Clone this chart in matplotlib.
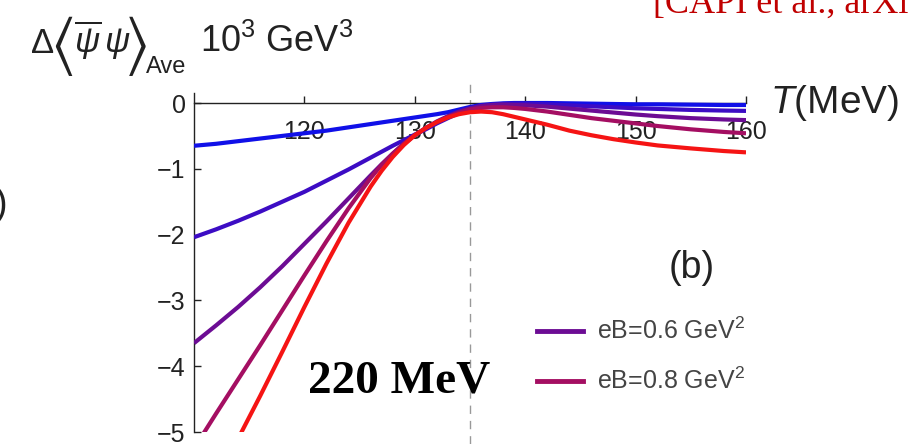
import matplotlib
matplotlib.use("Agg")
import matplotlib.pyplot as plt
from matplotlib.lines import Line2D

plt.rcParams['font.family'] = ['Liberation Sans', 'DejaVu Sans']
plt.rcParams['mathtext.fontset'] = 'custom'
plt.rcParams['mathtext.rm'] = 'Liberation Sans'
plt.rcParams['mathtext.it'] = 'Liberation Sans:italic'
plt.rcParams['mathtext.fallback'] = 'stixsans'
plt.rcParams['axes.unicode_minus'] = True

# temperature grid (MeV)
T = [110, 112, 114, 116, 118, 120, 122, 124, 126, 127, 128, 129, 130, 131, 132, 133,
     134, 135, 136, 137, 138, 139, 140, 142, 144, 146, 148, 150, 152, 155, 158, 160]
T_red = T[2:]

# condensate difference, 10^3 GeV^3
cond_02 = [-0.65, -0.62, -0.58, -0.54, -0.50, -0.46, -0.42, -0.37, -0.32, -0.295, -0.27, -0.245,
           -0.22, -0.195, -0.17, -0.14, -0.10, -0.06, -0.03, -0.015, -0.005, 0.0, 0.0, 0.0,
           -0.005, -0.01, -0.015, -0.02, -0.02, -0.025, -0.03, -0.03]
cond_04 = [-2.04, -1.92, -1.79, -1.65, -1.50, -1.35, -1.18, -1.01, -0.83, -0.74, -0.65, -0.565,
           -0.48, -0.40, -0.31, -0.23, -0.15, -0.09, -0.05, -0.025, -0.015, -0.01, -0.01, -0.02,
           -0.035, -0.05, -0.065, -0.08, -0.09, -0.105, -0.115, -0.12]
cond_06 = [-3.65, -3.38, -3.10, -2.80, -2.48, -2.14, -1.80, -1.45, -1.10, -0.93, -0.77, -0.62,
           -0.49, -0.38, -0.28, -0.20, -0.13, -0.08, -0.045, -0.03, -0.025, -0.03, -0.035, -0.055,
           -0.085, -0.115, -0.145, -0.175, -0.20, -0.23, -0.25, -0.26]
cond_08 = [-5.25, -4.72, -4.20, -3.68, -3.15, -2.62, -2.10, -1.60, -1.14, -0.94, -0.77, -0.62,
           -0.49, -0.38, -0.29, -0.21, -0.15, -0.10, -0.075, -0.065, -0.065, -0.075, -0.09, -0.13,
           -0.18, -0.23, -0.27, -0.31, -0.35, -0.40, -0.44, -0.46]
cond_10 = [-5.10, -4.45, -3.78, -3.10, -2.44, -1.82, -1.27, -1.03, -0.82, -0.64,
           -0.49, -0.38, -0.29, -0.22, -0.17, -0.14, -0.13, -0.14, -0.17, -0.21, -0.25, -0.33,
           -0.42, -0.49, -0.55, -0.60, -0.645, -0.69, -0.73, -0.75]

curves = [
    (T, cond_02, '#1010e8'),
    (T, cond_04, '#3c0cc4'),
    (T, cond_06, '#6c0c94'),
    (T, cond_08, '#a40e62'),
    (T_red, cond_10, '#f51414'),
]

W, H = 911, 444
fig = plt.figure(figsize=(W / 100, H / 100), dpi=100)
ax = fig.add_axes([194 / W, 1 - 432 / H, 552 / W, 339 / H])

for tt, vals, col in curves:
    ax.plot(tt, vals, color=col, lw=3.0, solid_capstyle='butt', zorder=3)

ax.axvline(135, ymin=-0.035, ymax=1.03, color='#999999', lw=1.0, ls=(0, (6, 5)), clip_on=False)

ax.set_xlim(110, 160)
ax.set_ylim(-5, 0.152)
ax.spines['bottom'].set_position(('data', 0))
ax.spines['top'].set_visible(False)
ax.spines['right'].set_visible(False)
for s in ('left', 'bottom'):
    ax.spines[s].set_linewidth(1.0)
    ax.spines[s].set_color('#222222')
ax.set_xticks([120, 130, 140, 150, 160])
ax.set_yticks([0, -1, -2, -3, -4, -5])
ax.tick_params(axis='x', direction='in', length=5, width=1, pad=12, labelsize=18, colors='#222222')
ax.tick_params(axis='y', direction='in', length=5, width=1, pad=6, labelsize=18, colors='#222222')
ax.patch.set_alpha(0)

def fx(px):
    return px / W

def fy(py):
    return 1 - py / H

# y label built from pieces so the angle brackets can be tall
ink = '#222222'
fig.text(fx(30), fy(53), r'$\Delta$', fontsize=25, ha='left', va='baseline', color=ink)
fig.text(fx(50), fy(46), r'$\langle$', fontsize=46, ha='left', va='center', color=ink)
fig.text(fx(74), fy(53), r'$\overline{\psi}\,\psi$', fontsize=25, ha='left', va='baseline', color=ink)
fig.text(fx(124), fy(46), r'$\rangle$', fontsize=46, ha='left', va='center', color=ink)
fig.text(fx(146), fy(73), 'Ave', fontsize=17, ha='left', va='baseline', color=ink)
fig.text(fx(200), fy(52), r'10$^3$ GeV$^3$', fontsize=26, ha='left', va='baseline', color=ink)

fig.text(fx(770), fy(103), r'$T$(MeV)', fontsize=28, ha='left', va='center', color=ink)
fig.text(fx(692), fy(268), '(b)', fontsize=27, ha='center', va='center', color=ink)
fig.text(fx(-5), fy(205), ')', fontsize=27, ha='left', va='center', color=ink)
fig.text(fx(308), fy(392), '220 MeV', fontsize=34, family='Liberation Serif', weight='bold',
         ha='left', va='baseline', color='black')
fig.text(fx(653), fy(13), '[CAPI et al., arXiv]', fontsize=26, family='Liberation Serif',
         ha='left', va='baseline', color='#c00000')

# legend (only two entries visible)
legend_labels = [r'eB=0.6 GeV$^2$', r'eB=0.8 GeV$^2$']
legend_colors = ['#6c0c94', '#a40e62']
for i, (lab, col) in enumerate(zip(legend_labels, legend_colors)):
    yy = fy(331 + 50 * i)
    fig.add_artist(Line2D([fx(537), fx(583)], [yy, yy], color=col, lw=3.5, transform=fig.transFigure))
    fig.text(fx(597), yy, lab, fontsize=18, ha='left', va='center', color='#444444')

fig.savefig('out.png', dpi=100)
